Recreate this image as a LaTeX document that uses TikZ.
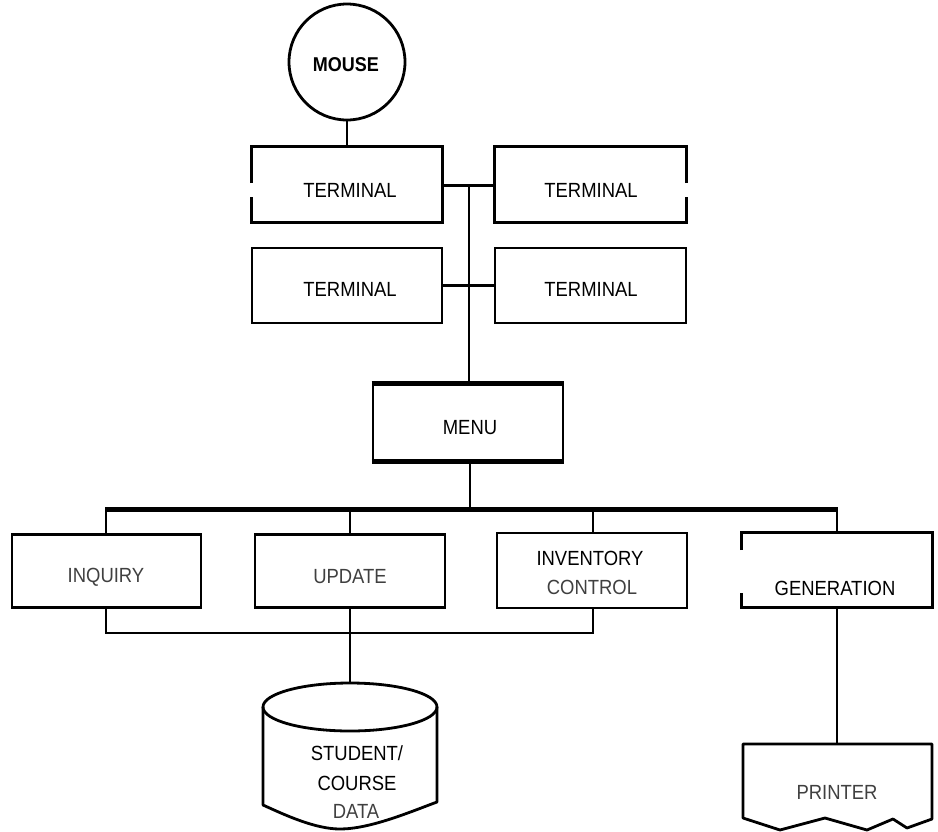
\documentclass[tikz,border=0pt]{standalone}
\usepackage{fontspec}
\setmainfont[FakeStretch=0.9]{Liberation Sans}
\usetikzlibrary{calc}

\tikzset{
  box/.style={draw, line width=2.8pt, rectangle, inner sep=0pt, line join=miter},
  openbox/.style={rectangle, inner sep=0pt},
  edgeline/.style={line width=2.8pt, line join=miter},
  wire/.style={line width=2.4pt},
  bus/.style={line width=5pt},
  lbl/.style={inner sep=0pt, font=\fontsize{20.5}{22}\selectfont},
  soft/.style={text=black!75},
}

\begin{document}
\begin{tikzpicture}[x=1pt,y=-1pt]
  \useasboundingbox (0,0) rectangle (938,831);

  % mouse
  \node[draw, circle, line width=2.8pt, minimum size=116pt, inner sep=0pt] (mouse) at (347,62) {};
  \node[lbl, font=\bfseries\fontsize{20}{22}\selectfont] (mousetxt) at (346,65) {MOUSE};

  % terminals
  \node[openbox, minimum width=190pt, minimum height=75pt] (t1) at (347,184.5) {};
  \node[openbox, minimum width=191pt, minimum height=75pt] (t2) at (590.5,184.5) {};
  \node[box, minimum width=190pt, minimum height=75pt] (t3) at (347,285.5) {};
  \node[box, minimum width=191pt, minimum height=75pt] (t4) at (590.5,285.5) {};
  % the two upper terminals have a break in one side edge
  \draw[edgeline] (t1.west |- 0,183) -- (t1.north west) -- (t1.north east)
                  -- (t1.south east) -- (t1.south west) -- (t1.west |- 0,197);
  \draw[edgeline] (t2.east |- 0,183) -- (t2.north east) -- (t2.north west)
                  -- (t2.south west) -- (t2.south east) -- (t2.east |- 0,197);
  \node[lbl] (t1txt) at (350,190) {TERMINAL};
  \node[lbl] (t2txt) at (591,190) {TERMINAL};
  \node[lbl] (t3txt) at (350,289) {TERMINAL};
  \node[lbl] (t4txt) at (591,289) {TERMINAL};

  % menu
  \node[box, minimum width=190pt, minimum height=75pt] (menu) at (468,422.5) {};
  \draw[line width=5pt] (menu.north west) -- (menu.north east);
  \draw[line width=5pt] (menu.south west) -- (menu.south east);
  \node[lbl] (menutxt) at (470,428) {MENU};

  % functions
  \node[box, minimum width=189pt, minimum height=73pt] (inq) at (106.5,571) {};
  \node[box, minimum width=190pt, minimum height=73pt] (upd) at (350,571) {};
  \node[box, minimum width=190pt, minimum height=75pt] (inv) at (592,570.5) {};
  \node[openbox, minimum width=190pt, minimum height=74pt] (gen) at (837,570) {};
  \draw[edgeline] (gen.west |- 0,550) -- (gen.north west) -- (gen.north east)
                  -- (gen.south east) -- (gen.south west) -- (gen.west |- 0,593);
  \node[lbl, soft] (inqtxt) at (106,577) {INQUIRY};
  \node[lbl, soft] (updtxt) at (350,577) {UPDATE};
  \node[lbl] (invtxt1) at (590,558) {INVENTORY};
  \node[lbl, soft] (invtxt2) at (592,587) {CONTROL};
  \node[lbl] (gentxt) at (835,588) {GENERATION};

  % data store
  \coordinate (dbtop) at (350,683);
  \draw[line width=2.8pt] (350,707) ellipse [x radius=87pt, y radius=24pt];
  \draw[line width=2.8pt, line join=round]
    (263,707) -- (263,805)
    .. controls (285,815) and (315,829) .. (340,829)
    .. controls (370,829) and (410,812) .. (437,802) -- (437,707);
  \node[lbl] (dbtxt1) at (357,753) {STUDENT/};
  \node[lbl] (dbtxt2) at (357,783) {COURSE};
  \node[lbl, soft] (dbtxt3) at (356,811) {DATA};

  % printer
  \coordinate (prtop) at (837,744);
  \draw[line width=2.8pt, line join=round]
    (743,744) -- (932,744) -- (932,819)
    -- (907,828) -- (893,819) -- (867,830) -- (825,818) -- (780,830)
    -- (743,818) -- cycle;
  \node[lbl, soft] (prtxt) at (837,792) {PRINTER};

  % connectors
  \draw[wire] (mouse.south) -- (t1.north -| mouse.south);
  \coordinate (trunk1) at (469,185.5);
  \coordinate (trunk2) at (469,285.5);
  \draw[wire] (t1.east |- trunk1) -- (t2.west |- trunk1);
  \draw[wire] (t3.east |- trunk2) -- (t4.west |- trunk2);
  \draw[wire] (trunk1) -- (menu.north -| trunk1);

  \coordinate (busl) at (106,509);
  \coordinate (busr) at (837,509);
  \draw[wire] (menu.south -| 470,0) -- (470,509);
  \draw[bus, line cap=butt] (busl) -- (busr);
  \draw[wire] (106,507) -- (inq.north -| 106,0);
  \draw[wire] (350,509) -- (upd.north -| 350,0);
  \draw[wire] (593,509) -- (inv.north -| 593,0);
  \draw[wire] (837,507) -- (gen.north -| 837,0);

  \coordinate (lowl) at (106,633);
  \coordinate (lowr) at (593,633);
  \draw[wire, line join=miter] (inq.south -| lowl) -- (lowl) -- (lowr) -- (inv.south -| lowr);
  \draw[wire] (upd.south) -- (dbtop);
  \draw[wire] (gen.south -| prtop) -- (prtop);
\end{tikzpicture}
\end{document}
